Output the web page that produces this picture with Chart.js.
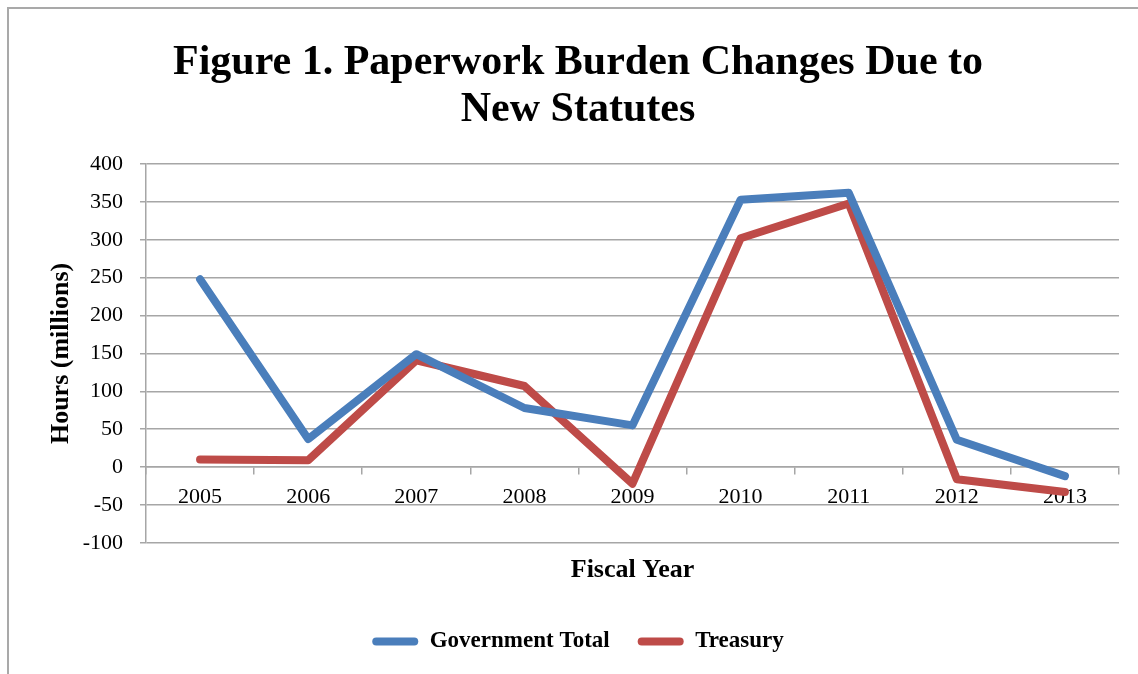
<!DOCTYPE html>
<html>
<head>
<meta charset="utf-8">
<title>Paperwork Burden Changes</title>
<script src="https://cdn.jsdelivr.net/npm/chart.js@4.4.1/dist/chart.umd.min.js"></script>
<style>
  body { margin: 0; background: #fff; overflow: hidden; }
  #wrap { position: relative; width: 1138px; height: 674px; }
  #frame { position: absolute; left: 7px; top: 7px; width: 1200px; height: 700px;
           border-left: 2px solid #a9a9a9; border-top: 2px solid #a9a9a9; }
  canvas { position: absolute; left: 0; top: 0; }
</style>
</head>
<body>
<div id="wrap">
  <div id="frame"></div>
  <canvas id="chart" width="1138" height="674"></canvas>
</div>
<script>
// anos fiscais e valores (milhoes de horas)
const anos = ['2005', '2006', '2007', '2008', '2009', '2010', '2011', '2012', '2013'];
const governoTotal = [248, 37, 149, 78, 55, 353, 362, 36, -12];
const tesouro = [10, 9, 141, 107, -22, 302, 348, -16, -33];

const fonte = '"Liberation Serif", "Times New Roman", serif';
const cinza = '#a6a6a6';

Chart.defaults.font.family = fonte;
Chart.defaults.color = '#000';

const ctx = document.getElementById('chart').getContext('2d');
const chart = new Chart(ctx, {
    type: 'line',
    data: {
        labels: anos,
        datasets: [
            {
                label: 'Government Total',
                data: governoTotal,
                borderColor: '#4a7ebb',
                backgroundColor: '#4a7ebb',
                borderWidth: 8,
                borderCapStyle: 'round',
                borderJoinStyle: 'round',
                pointRadius: 0,
                tension: 0,
                fill: false
            },
            {
                label: 'Treasury',
                data: tesouro,
                borderColor: '#be4b48',
                backgroundColor: '#be4b48',
                borderWidth: 8,
                borderCapStyle: 'round',
                borderJoinStyle: 'round',
                pointRadius: 0,
                tension: 0,
                fill: false
            }
        ]
    },
    options: {
        responsive: false,
        animation: false,
        devicePixelRatio: 1,
        layout: { padding: { left: 37, right: 19, top: 0, bottom: 11 } },
        plugins: {
            title: {
                display: true,
                text: ['Figure 1. Paperwork Burden Changes Due to', 'New Statutes'],
                font: { size: 42, weight: 'bold', family: fonte, lineHeight: 1.12 },
                color: '#000',
                padding: { top: 40, bottom: 30 }
            },
            legend: {
                position: 'bottom',
                labels: {
                    boxWidth: 46,
                    boxHeight: 8,
                    useBorderRadius: true,
                    borderRadius: 4,
                    padding: 28,
                    font: { size: 23, weight: 'bold', family: fonte },
                    color: '#000',
                    generateLabels: function(c) {
                        // sem contorno: so a faixa colorida
                        const itens = Chart.defaults.plugins.legend.labels.generateLabels(c);
                        itens.forEach(function(it) { it.lineWidth = 0; });
                        return itens;
                    }
                }
            },
            tooltip: { enabled: false }
        },
        scales: {
            x: {
                type: 'category',
                offset: true,
                position: { y: 0 },
                grid: { drawOnChartArea: false, drawTicks: true, tickLength: 7, offset: true, color: cinza, lineWidth: 1.5 },
                border: { display: true, color: cinza, width: 1.5 },
                ticks: { font: { size: 22, family: fonte }, color: '#000', padding: 10, maxRotation: 0 }
            },
            x2: {
                type: 'category',
                position: 'bottom',
                labels: anos,
                grid: { display: false, drawTicks: false },
                border: { display: false },
                ticks: { display: false },
                title: {
                    display: true,
                    text: 'Fiscal Year',
                    font: { size: 26, weight: 'bold', family: fonte },
                    color: '#000',
                    padding: { top: 12, bottom: 16 }
                }
            },
            y: {
                min: -100,
                max: 400,
                ticks: { stepSize: 50, font: { size: 22, family: fonte }, color: '#000', padding: 17 },
                grid: { color: cinza, lineWidth: 1.5, tickLength: 6 },
                border: { display: true, color: cinza, width: 1.5 },
                title: {
                    display: true,
                    text: 'Hours (millions)',
                    font: { size: 26, weight: 'bold', family: fonte },
                    color: '#000',
                    padding: { top: 9, bottom: 0 }
                },
                afterFit: function(scale) { scale.width = 109; }
            }
        }
    }
});
</script>
</body>
</html>
